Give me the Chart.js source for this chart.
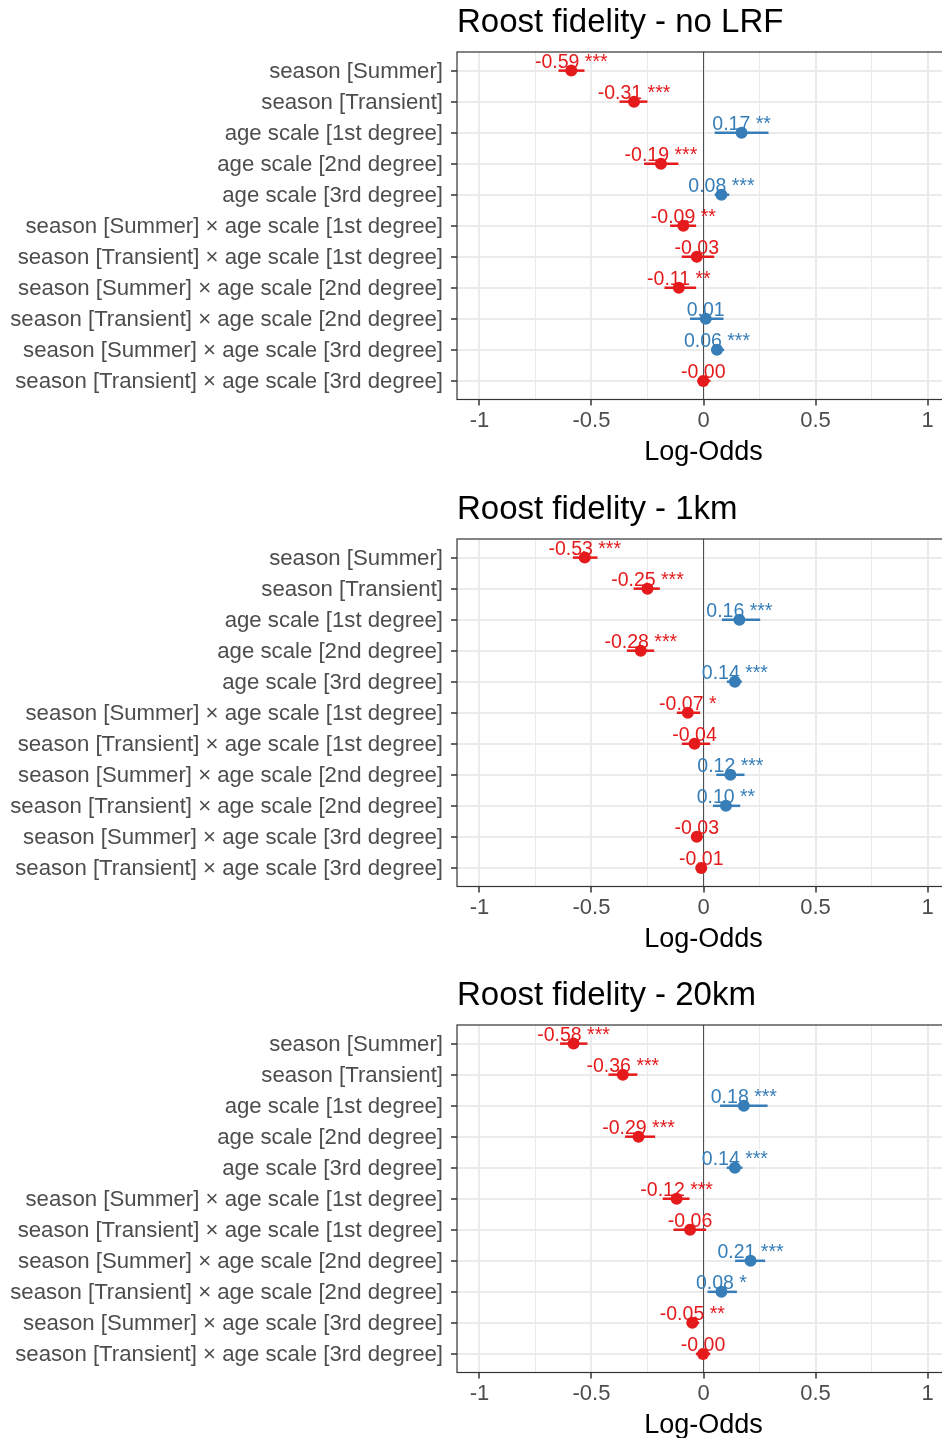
<!DOCTYPE html>
<html><head><meta charset="utf-8">
<script src="https://cdn.jsdelivr.net/npm/chart.js@4.4.1/dist/chart.umd.min.js"></script>
<style>
html,body{margin:0;padding:0;background:#fff;overflow:hidden;width:942px;height:1438px;}
.panel{position:absolute;left:0;width:950px;height:480px;}
canvas{display:block;}
</style></head><body>
<div class="panel" style="top:0px"><canvas id="c1" width="950" height="480"></canvas></div>
<div class="panel" style="top:487px"><canvas id="c2" width="950" height="480"></canvas></div>
<div class="panel" style="top:973px"><canvas id="c3" width="950" height="480"></canvas></div>
<script>
const FONT = '"Liberation Sans", Arial, Helvetica, sans-serif';
const RED = '#E41A1C', BLUE = '#377EB8';

const categories = [
  'season [Summer]',
  'season [Transient]',
  'age scale [1st degree]',
  'age scale [2nd degree]',
  'age scale [3rd degree]',
  'season [Summer] × age scale [1st degree]',
  'season [Transient] × age scale [1st degree]',
  'season [Summer] × age scale [2nd degree]',
  'season [Transient] × age scale [2nd degree]',
  'season [Summer] × age scale [3rd degree]',
  'season [Transient] × age scale [3rd degree]'
];
const xTickValues = [-1, -0.75, -0.5, -0.25, 0, 0.25, 0.5, 0.75, 1];
const xTickLabels = ['-1', '', '-0.5', '', '0', '', '0.5', '', '1'];
const panelTitles = ['Roost fidelity - no LRF', 'Roost fidelity - 1km', 'Roost fidelity - 20km'];

// Panel 1: no LRF
const estNoLRF = [-0.59, -0.31, 0.17, -0.19, 0.08, -0.09, -0.03, -0.11, 0.01, 0.06, -0.001];
const loNoLRF  = [-0.647, -0.375, 0.05, -0.265, 0.05, -0.149, -0.097, -0.174, -0.06, 0.037, -0.028];
const hiNoLRF  = [-0.531, -0.25, 0.29, -0.112, 0.115, -0.033, 0.048, -0.033, 0.089, 0.092, 0.031];
const starsNoLRF = ['***', '***', '**', '***', '***', '**', '', '**', '', '***', ''];

// Panel 2: 1km
const est1km = [-0.53, -0.25, 0.16, -0.28, 0.14, -0.07, -0.04, 0.12, 0.10, -0.03, -0.01];
const lo1km  = [-0.583, -0.312, 0.082, -0.342, 0.104, -0.119, -0.097, 0.057, 0.042, -0.055, -0.034];
const hi1km  = [-0.473, -0.195, 0.253, -0.22, 0.171, -0.015, 0.03, 0.183, 0.164, -0.003, 0.015];
const stars1km = ['***', '***', '***', '***', '***', '*', '', '***', '**', '', ''];

// Panel 3: 20km
const est20km = [-0.58, -0.36, 0.18, -0.29, 0.14, -0.12, -0.06, 0.21, 0.08, -0.05, -0.002];
const lo20km  = [-0.64, -0.424, 0.074, -0.35, 0.104, -0.182, -0.134, 0.141, 0.018, -0.074, -0.034];
const hi20km  = [-0.518, -0.295, 0.286, -0.216, 0.174, -0.0625, 0.012, 0.275, 0.149, -0.019, 0.03];
const stars20km = ['***', '***', '***', '***', '***', '***', '', '***', '*', '**', ''];

const isMajor = v => Math.abs(v * 2 - Math.round(v * 2)) < 1e-9;
const colOf = v => (v < 0 ? RED : BLUE);

const forestPlugin = {
  id: 'forest',
  afterDatasetDraw(chart, args) {
    if (args.index !== 0) return;
    const p = chart.options.plugins.forest;
    const xs = chart.scales.x, ys = chart.scales.y, ctx = chart.ctx;
    ctx.save();
    ctx.lineWidth = 2.5;
    ctx.lineCap = 'butt';
    p.est.forEach((v, i) => {
      const y = ys.getPixelForValue(i + 1);
      ctx.strokeStyle = colOf(v);
      ctx.beginPath();
      ctx.moveTo(xs.getPixelForValue(p.lo[i]), y);
      ctx.lineTo(xs.getPixelForValue(p.hi[i]), y);
      ctx.stroke();
    });
    ctx.restore();
  },
  afterDatasetsDraw(chart) {
    const p = chart.options.plugins.forest;
    const xs = chart.scales.x, ys = chart.scales.y, ctx = chart.ctx;
    ctx.save();
    ctx.font = '19.5px ' + FONT;
    ctx.textAlign = 'center';
    ctx.textBaseline = 'alphabetic';
    p.est.forEach((v, i) => {
      const txt = v.toFixed(2) + (p.stars[i] ? ' ' + p.stars[i] : '');
      ctx.fillStyle = colOf(v);
      ctx.fillText(txt, xs.getPixelForValue(v), ys.getPixelForValue(i + 1) - 2.5);
    });
    ctx.restore();
  },
  afterDraw(chart) {
    const a = chart.chartArea, ctx = chart.ctx;
    ctx.save();
    ctx.strokeStyle = '#333333';
    ctx.lineWidth = 1.2;
    ctx.strokeRect(a.left, a.top, a.right - a.left, a.bottom - a.top);
    ctx.restore();
  }
};

function makePanel(id, title, est, lo, hi, stars) {
  return new Chart(document.getElementById(id), {
    type: 'scatter',
    data: {
      datasets: [
        {
          type: 'line',
          data: [{ x: 0, y: 0.4 }, { x: 0, y: 11.6 }],
          borderColor: '#4D4D4D',
          borderWidth: 1,
          pointRadius: 0,
          showLine: true,
          order: 2
        },
        {
          data: est.map((v, i) => ({ x: v, y: i + 1 })),
          backgroundColor: est.map(colOf),
          borderWidth: 0,
          pointRadius: 6,
          order: 1
        }
      ]
    },
    options: {
      responsive: false,
      animation: false,
      events: [],
      layout: { padding: 0, autoPadding: false },
      plugins: {
        legend: { display: false },
        tooltip: { enabled: false },
        title: {
          display: true,
          text: title,
          align: 'start',
          fullSize: false,
          color: '#000000',
          font: { family: FONT, size: 33, weight: 'normal', lineHeight: 1.2 },
          padding: { top: 3, bottom: 9.4 }
        },
        forest: { est, lo, hi, stars }
      },
      scales: {
        x: {
          type: 'linear',
          min: -1.1,
          max: 1.1,
          afterBuildTicks: s => { s.ticks = xTickValues.map(v => ({ value: v })); },
          afterFit: s => { s.height = 80.5; s.paddingLeft = 0; s.paddingRight = 0; },
          ticks: {
            autoSkip: false,
            maxRotation: 0,
            padding: 2.5,
            color: '#4D4D4D',
            font: { family: FONT, size: 22 },
            callback: (v, i) => xTickLabels[i]
          },
          grid: {
            color: '#EBEBEB',
            lineWidth: c => (c.tick && isMajor(c.tick.value) ? 2 : 1),
            tickColor: c => (c.tick && isMajor(c.tick.value) ? '#333333' : 'rgba(0,0,0,0)'),
            tickLength: 6,
            tickWidth: 1.5
          },
          border: { display: false },
          title: {
            display: true,
            text: 'Log-Odds',
            color: '#000000',
            font: { family: FONT, size: 27, lineHeight: 1.2 },
            padding: { top: 0, bottom: 11.5 }
          }
        },
        y: {
          type: 'linear',
          reverse: true,
          min: 0.4,
          max: 11.6,
          afterBuildTicks: s => { s.ticks = categories.map((_, i) => ({ value: i + 1 })); },
          afterFit: s => { s.width = 457; s.paddingTop = 0; s.paddingBottom = 0; },
          ticks: {
            autoSkip: false,
            padding: 8,
            labelOffset: 1,
            color: '#4D4D4D',
            font: { family: FONT, size: 22.2 },
            callback: (v, i) => categories[i]
          },
          grid: {
            color: '#EBEBEB',
            lineWidth: 2,
            tickColor: '#333333',
            tickLength: 6,
            tickWidth: 1.5
          },
          border: { display: false }
        }
      }
    },
    plugins: [forestPlugin]
  });
}

makePanel('c1', panelTitles[0], estNoLRF, loNoLRF, hiNoLRF, starsNoLRF);
makePanel('c2', panelTitles[1], est1km, lo1km, hi1km, stars1km);
makePanel('c3', panelTitles[2], est20km, lo20km, hi20km, stars20km);
</script>
</body></html>
